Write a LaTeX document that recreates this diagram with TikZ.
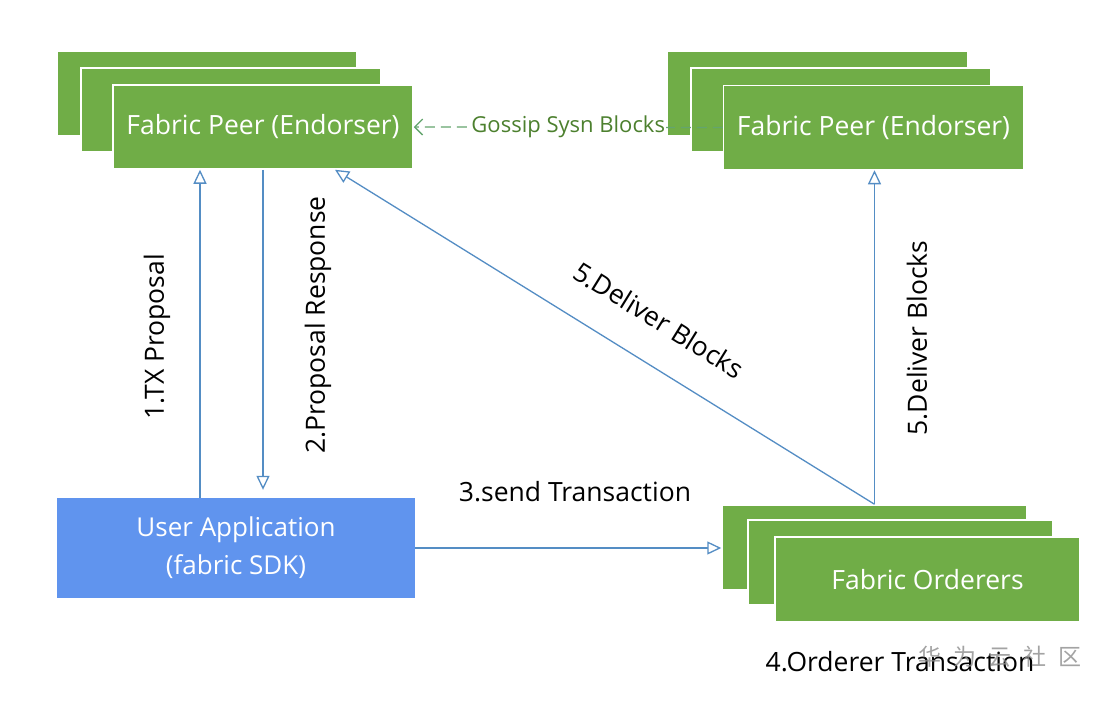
\documentclass[tikz,border=0pt]{standalone}
\usepackage{fontspec}
\setmainfont{Open Sans}
\newfontfamily\cjk{Noto Sans CJK SC}
\usetikzlibrary{arrows.meta}
\definecolor{fgreen}{RGB}{112,173,71}
\definecolor{fblue}{RGB}{96,148,238}
\definecolor{aline}{RGB}{84,141,196}
\definecolor{ggreen}{RGB}{76,128,46}
\definecolor{gline}{RGB}{100,165,110}
\begin{document}
\begin{tikzpicture}[x=1pt,y=-1pt,
  greenbox/.style={draw=white, line width=1.5pt, fill=fgreen, minimum width=300pt, minimum height=84pt, inner sep=0pt, text=white, font=\fontsize{26.5}{30}\selectfont},
  ordbox/.style={greenbox, minimum width=305pt, minimum height=85pt},
  appbox/.style={fill=fblue, minimum width=358pt, minimum height=100pt, inner sep=0pt, text=white, align=center, font=\fontsize{26}{38}\selectfont},
  flow/.style={draw=aline, line width=1.3pt, -{Triangle[open, length=14pt, width=13pt, fill=white]}},
  lbl/.style={text=black, font=\fontsize{26.5}{30}\selectfont, inner sep=0pt},
  gossip/.style={draw=gline, line width=1.3pt, dash pattern=on 10pt off 6pt, -{Straight Barb[length=8pt, width=16pt]}},
]
\useasboundingbox[fill=white] (0,0) rectangle (1108,702);

% left peer stack
\node[greenbox] (peerLback) at (207,93.5) {};
\node[greenbox] (peerLmid) at (231,110) {};
\node[greenbox] (peerL) at (263,127) {Fabric Peer (Endorser)};

% right peer stack
\node[greenbox] (peerRback) at (817.5,93.5) {};
\node[greenbox] (peerRmid) at (841,110) {};
\node[greenbox] (peerR) at (873.5,127.5) {Fabric Peer (Endorser)};

% orderers stack
\node[ordbox] (ordback) at (874.5,547.5) {};
\node[ordbox] (ordmid) at (900.5,562.5) {};
\node[ordbox] (ord) at (927.5,579.5) {Fabric Orderers};

% user application
\node[appbox] (app) at (236,548) {User Application\\(fabric SDK)};

% connectors
\draw[flow] ([xshift=-36pt]app.north) -- ([xshift=-63pt]peerL.south);
\coordinate (resptip) at ([yshift=8pt]app.north -| peerL.south);
\draw[flow] (peerL.south) -- (resptip);
\draw[flow] (app.east) -- (app.east -| ordback.west);
\coordinate (diagtip) at ([xshift=72pt]peerL.south);
\draw[flow] (ordback.north) -- (diagtip);
\draw[flow] (ordback.north) -- (ordback.north |- peerR.south);

\draw[gossip] (peerR.west) -- (peerL.east)
  node[midway, fill=white, inner sep=1pt, text=ggreen, font=\fontsize{22}{26}\selectfont] (gosl) {Gossip Sysn Blocks};

% labels
\node[lbl, rotate=90] (l1) at (157,337) {1.TX Proposal};
\node[lbl, rotate=90] (l2) at (318,325) {2.Proposal Response};
\node[lbl] (l3) at (575,492) {3.send Transaction};
\node[lbl, rotate=-31.8] (l5a) at (659,320) {5.Deliver Blocks};
\node[lbl, rotate=90] (l5b) at (917,338) {5.Deliver Blocks};
\node[lbl] (l4) at (900,662) {4.Orderer Transaction};
\node[text=black!45, opacity=0.8, font=\cjk\fontsize{23}{26}\selectfont, inner sep=0pt] (wm) at (1000,657) {华\hspace{12pt}为\hspace{12pt}云\hspace{12pt}社\hspace{12pt}区};
\end{tikzpicture}
\end{document}
